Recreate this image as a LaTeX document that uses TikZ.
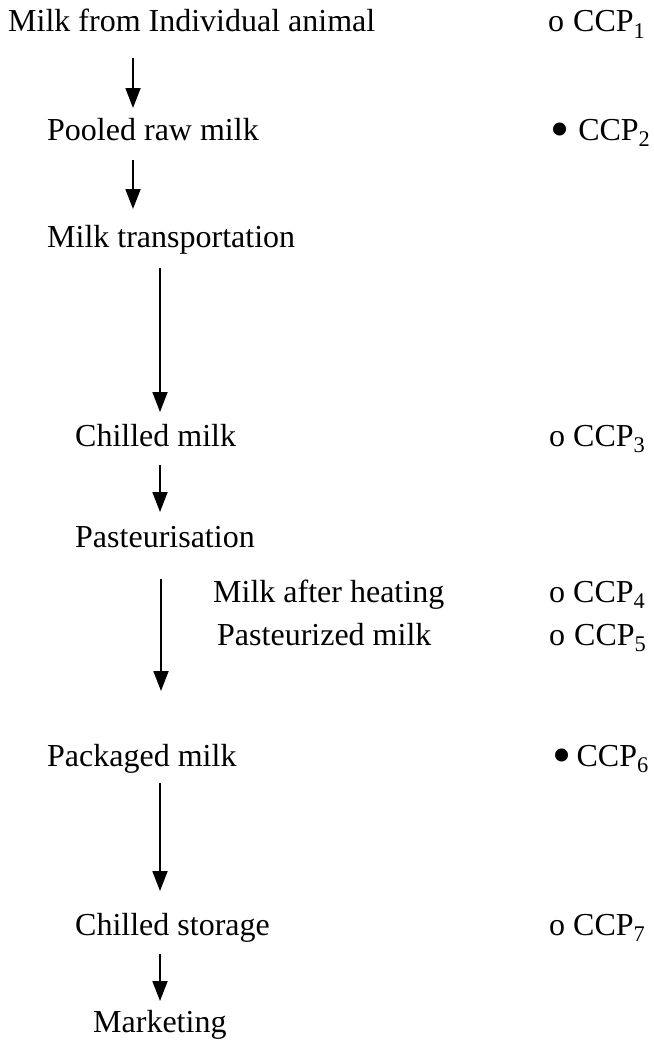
\documentclass[tikz,border=0pt]{standalone}
\usepackage{fontspec}
\setmainfont{Liberation Serif}
\usetikzlibrary{arrows.meta}
\newcommand{\bigdot}{\raisebox{-7pt}{\scalebox{1.7}{\textbullet}}}
\begin{document}
\begin{tikzpicture}[x=1pt,y=-1pt,
  txt/.style={anchor=base west,inner sep=0pt,font=\fontsize{32}{38}\selectfont},
  flow/.style={line width=1.8pt,-{Triangle[length=20pt,width=15pt]}}]
\useasboundingbox (0,0) rectangle (653,1041);
% steps
\node[txt] (s1) at (8,32) {Milk from Individual animal};
\node[txt] (s2) at (47,140) {Pooled raw milk};
\node[txt] (s3) at (47,247) {Milk transportation};
\node[txt] (s4) at (75,446) {Chilled milk};
\node[txt] (s5) at (75,547) {Pasteurisation};
\node[txt] (s5a) at (213,602) {Milk after heating};
\node[txt] (s5b) at (217,645) {Pasteurized milk};
\node[txt] (s6) at (47,766) {Packaged milk};
\node[txt] (s7) at (75,935) {Chilled storage};
\node[txt] (s8) at (93,1032) {Marketing};
% CCP labels
\node[txt] (c1) at (548,32) {o\hspace{9pt}CCP\textsubscript{1}};
\node[txt] (c2) at (550,140) {\bigdot\hspace{9pt}CCP\textsubscript{2}};
\node[txt] (c3) at (549,446) {o CCP\textsubscript{3}};
\node[txt] (c4) at (549,602) {o CCP\textsubscript{4}};
\node[txt] (c5) at (549,645) {o\hspace{9pt}CCP\textsubscript{5}};
\node[txt] (c6) at (552,766) {\bigdot\,CCP\textsubscript{6}};
\node[txt] (c7) at (549,935) {o CCP\textsubscript{7}};
% arrow end points
\coordinate (a1s) at (133,58);  \coordinate (a1e) at (133,108);
\coordinate (a2s) at (133,160); \coordinate (a2e) at (133,209);
\coordinate (a3s) at (160,268); \coordinate (a3e) at (160,412);
\coordinate (a4s) at (160,465); \coordinate (a4e) at (160,512);
\coordinate (a5s) at (161,579); \coordinate (a5e) at (161,691);
\coordinate (a6s) at (160,783); \coordinate (a6e) at (160,891);
\coordinate (a7s) at (160,954); \coordinate (a7e) at (160,1001);
\foreach \i in {1,...,7}{\draw[flow] (a\i s) -- (a\i e);}
\end{tikzpicture}
\end{document}
